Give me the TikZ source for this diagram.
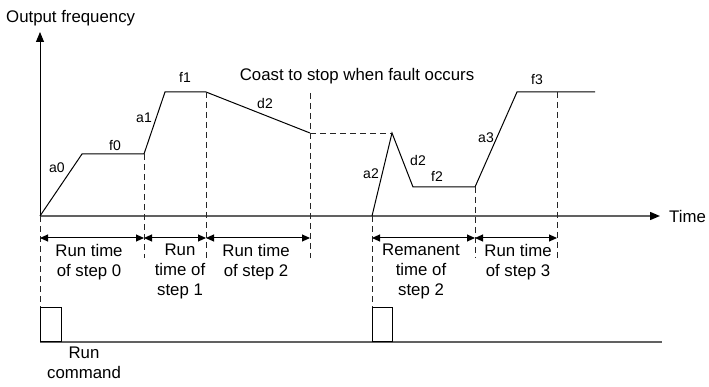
\documentclass[tikz,border=0pt]{standalone}
\usepackage{fontspec}
\setmainfont{Liberation Sans}
\usetikzlibrary{arrows.meta}
\begin{document}
\begin{tikzpicture}[x=1pt,y=-1pt,
  big/.style={font=\fontsize{16.8}{20}\selectfont, inner sep=0pt, align=center},
  small/.style={font=\fontsize{14}{16}\selectfont, inner sep=0pt},
  curve/.style={line width=1pt, black},
  guide/.style={line width=0.9pt, dash pattern=on 6pt off 4pt, black!85},
  axis/.style={line width=1.4pt, black!62},
  dim/.style={line width=1pt, {Triangle[length=8pt,width=7pt]}-{Triangle[length=8pt,width=7pt]}},
  cmd/.style={line width=1.2pt, black}]
\useasboundingbox (0,0) rectangle (709,387);
% axes
\coordinate (O) at (40,216);
\coordinate (Ytop) at (40,32);
\coordinate (Xend) at (660,216);
\draw[line width=1pt,-{Triangle[length=10pt,width=8pt]}] (O) -- (Ytop);
\draw[axis,-{Triangle[length=10pt,width=8pt,color=black]}] (O) -- (Xend);
\node[big, anchor=west] (ylab) at (6,18) {Output frequency};
\node[big, anchor=west] (xlab) at (669,216) {Time};
% curve points
\coordinate (p1) at (82,154);
\coordinate (p2) at (144,154);
\coordinate (p3) at (165,92);
\coordinate (p4) at (206,92);
\coordinate (p5) at (310,133);
\coordinate (q0) at (372,216);
\coordinate (q1) at (392,133);
\coordinate (q2) at (413,187);
\coordinate (q3) at (475,187);
\coordinate (q4) at (517,92);
\coordinate (q5) at (595,92);
\draw[curve] (O) -- (p1) -- (p2) -- (p3) -- (p4) -- (p5);
\draw[guide] (p5) -- (q1);
\draw[curve] (q0) -- (q1) -- (q2) -- (q3) -- (q4) -- (q5);
% dashed verticals
\coordinate (v0) at (40,308);
\coordinate (v1) at (144,258);
\coordinate (v2) at (206,258);
\coordinate (v3t) at (310,93);
\coordinate (v3) at (310,258);
\coordinate (v4) at (372,308);
\coordinate (v5) at (475,258);
\coordinate (v6t) at (557,92);
\coordinate (v6) at (557,258);
\draw[guide] (O) -- (v0);
\draw[guide] (p2) -- (v1);
\draw[guide] (p4) -- (v2);
\draw[guide] (v3t) -- (v3);
\draw[guide] (q0) -- (v4);
\draw[guide] (q3) -- (v5);
\draw[guide] (v6t) -- (v6);
% dimension arrows
\coordinate (d0) at (40,238);
\coordinate (d1) at (144,238);
\coordinate (d2) at (206,238);
\coordinate (d3) at (310,238);
\coordinate (d4) at (372,238);
\coordinate (d5) at (475,238);
\coordinate (d6) at (557,238);
\draw[dim] (d0) -- (d1);
\draw[dim] (d1) -- (d2);
\draw[dim] (d2) -- (d3);
\draw[dim] (d4) -- (d5);
\draw[dim] (d5) -- (d6);
% segment labels
\node[small] (la0) at (57,168) {a0};
\node[small] (lf0) at (115,146) {f0};
\node[small] (la1) at (144,118) {a1};
\node[small] (lf1) at (185,77) {f1};
\node[small] (ld2a) at (265,103) {d2};
\node[small] (la2) at (371,174) {a2};
\node[small] (ld2b) at (418,160) {d2};
\node[small] (lf2) at (437,176) {f2};
\node[small] (la3) at (486,138) {a3};
\node[small] (lf3) at (537,80) {f3};
\node[big] (coast) at (357,76) {Coast to stop when fault occurs};
% run time labels
\node[big, anchor=north] (t0) at (89,244) {Run time\\of step 0};
\node[big, anchor=north] (t1) at (180,244) {Run\\time of\\step 1};
\node[big, anchor=north] (t2) at (256,244) {Run time\\of step 2};
\node[big, anchor=north] (t3) at (421,244) {Remanent\\time of\\step 2};
\node[big, anchor=north] (t4) at (518,244) {Run time\\of step 3};
% run command
\coordinate (b0) at (40,342);
\coordinate (bend) at (662,342);
\draw[axis, line width=1.3pt] (b0) -- (bend);
\node[draw, cmd, minimum width=21pt, minimum height=34pt, inner sep=0pt, anchor=south west] (box1) at (40,342) {};
\node[draw, cmd, minimum width=20pt, minimum height=34pt, inner sep=0pt, anchor=south west] (box2) at (372,342) {};
\node[big, anchor=north] (rc) at (84,347) {Run\\command};
\end{tikzpicture}
\end{document}
